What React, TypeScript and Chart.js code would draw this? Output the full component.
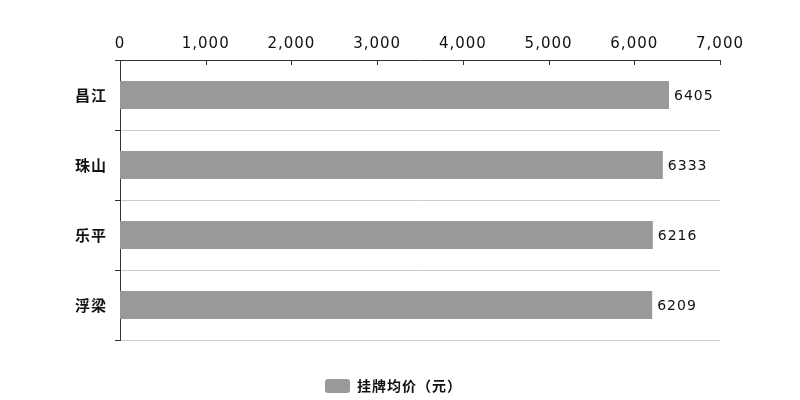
import React, { useEffect, useRef } from 'react';
import { Chart, registerables } from 'chart.js';

Chart.register(...registerables);

const categories: string[] = ['昌江', '珠山', '乐平', '浮梁'];
const prices: number[] = [6405, 6333, 6216, 6209];
const seriesName = '挂牌均价（元）';

const FONT = '"DejaVu Sans", sans-serif';
const CJK = '"Noto Sans CJK SC", sans-serif';

// the reference text is drawn with a little tracking
const spacing = {
  id: 'spacing',
  beforeUpdate(chart: any) {
    chart.ctx.letterSpacing = '1px';
  },
  beforeDraw(chart: any) {
    chart.ctx.letterSpacing = '1px';
  },
};

// value labels at bar ends + short tick marks under the top axis
const extras = {
  id: 'extras',
  afterDatasetsDraw(chart: any) {
    const ctx = chart.ctx;
    const meta = chart.getDatasetMeta(0);
    ctx.save();
    ctx.font = '14px ' + FONT;
    ctx.fillStyle = '#111';
    ctx.textAlign = 'left';
    ctx.textBaseline = 'middle';
    meta.data.forEach((bar: any, i: number) => {
      ctx.fillText(String(prices[i]), bar.x + 5, bar.y + 1);
    });
    const x = chart.scales.x;
    const top = chart.chartArea.top;
    ctx.strokeStyle = '#333';
    ctx.lineWidth = 1;
    x.ticks.forEach((t: any) => {
      const px = Math.round(x.getPixelForValue(t.value)) + 0.5;
      ctx.beginPath();
      ctx.moveTo(px, top);
      ctx.lineTo(px, top + 5);
      ctx.stroke();
    });
    ctx.restore();
  },
};

const App: React.FC = () => {
  const canvasRef = useRef<HTMLCanvasElement | null>(null);
  const chartRef = useRef<Chart<'bar'> | null>(null);

  useEffect(() => {
    document.body.style.margin = '0';
    if (!canvasRef.current) return;
    if (chartRef.current) chartRef.current.destroy();

    chartRef.current = new Chart(canvasRef.current, {
      type: 'bar',
      data: {
        labels: categories,
        datasets: [
          {
            label: seriesName,
            data: prices,
            backgroundColor: '#999999',
            barPercentage: 0.4,
            categoryPercentage: 1,
          },
        ],
      },
      options: {
        indexAxis: 'y',
        responsive: false,
        animation: false,
        layout: { padding: { left: 67, right: 80, top: 28, bottom: -3 } },
        scales: {
          x: {
            position: 'top',
            min: 0,
            max: 7000,
            ticks: {
              stepSize: 1000,
              padding: 7,
              color: '#111',
              font: { family: FONT, size: 15 },
              callback: (v: any) => Number(v).toLocaleString('en-US'),
            },
            grid: { display: false, drawTicks: false },
            border: { display: true, color: '#333' },
          },
          y: {
            ticks: {
              padding: 8,
              color: '#111',
              font: { family: CJK, size: 15, weight: 'bold' },
            },
            grid: { color: '#cccccc', tickLength: 5, tickColor: '#333', offset: true },
            border: { display: true, color: '#333' },
          },
        },
        plugins: {
          legend: {
            position: 'bottom',
            labels: {
              boxWidth: 25,
              boxHeight: 14,
              useBorderRadius: true,
              borderRadius: 3,
              color: '#111',
              padding: 39,
              font: { family: CJK, size: 14, weight: 'bold' },
            },
          },
          tooltip: { enabled: false },
        },
      },
      plugins: [spacing, extras],
    });

    return () => {
      if (chartRef.current) {
        chartRef.current.destroy();
        chartRef.current = null;
      }
    };
  }, []);

  return <canvas ref={canvasRef} width={800} height={400} />;
};

export default App;
